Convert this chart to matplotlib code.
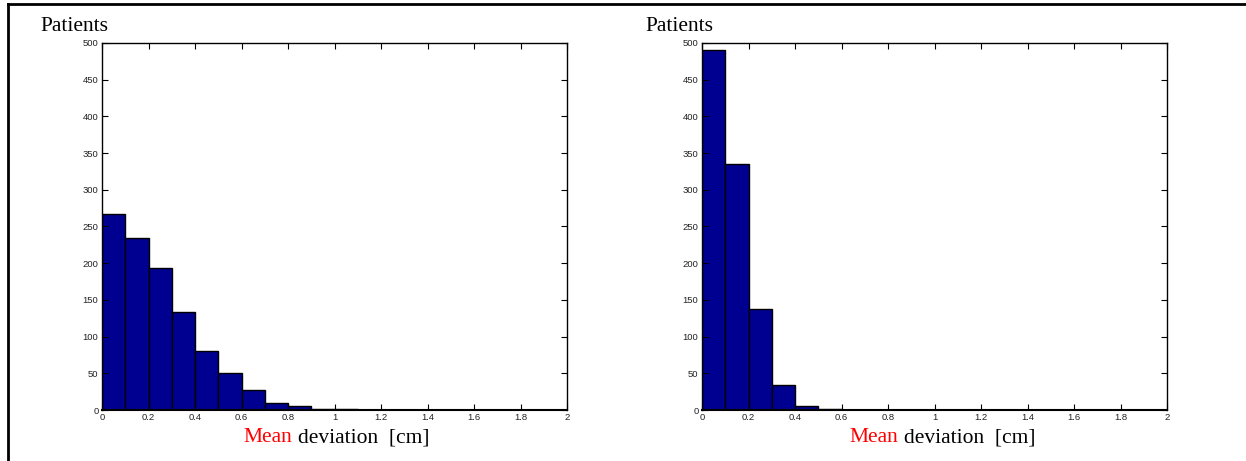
import numpy as np
import matplotlib
matplotlib.use('Agg')
import matplotlib.pyplot as plt
from matplotlib.lines import Line2D

# histogram counts per 0.1 cm bin, 0..2 cm
bin_edges = np.round(np.arange(0, 2.05, 0.1), 2)
left_counts = [267, 234, 194, 134, 81, 51, 27, 10, 6, 2, 1,
               0, 0, 0, 0, 0, 0, 0, 0, 0]
right_counts = [490, 335, 137, 34, 6, 1, 0, 0, 0, 0, 0,
                0, 0, 0, 0, 0, 0, 0, 0, 0]
x_ticks = [0, 0.2, 0.4, 0.6, 0.8, 1, 1.2, 1.4, 1.6, 1.8, 2]
x_tick_labels = ['0', '0.2', '0.4', '0.6', '0.8', '1', '1.2', '1.4', '1.6', '1.8', '2']
y_ticks = list(range(0, 501, 50))

W, H = 1246, 461
fig = plt.figure(figsize=(W / 100, H / 100), dpi=100)
fig.patch.set_facecolor('white')

bar_color = '#000090'
serif = 'Liberation Serif'
sans = 'Liberation Sans'


def px(x, y):
    return x / W, 1 - y / H


def draw_hist(left_px, counts):
    ax = fig.add_axes([left_px / W, 51 / H, 465 / W, 367 / H])
    ax.bar(bin_edges[:-1], counts, width=0.1, align='edge',
           color=bar_color, edgecolor='black', linewidth=1.0)
    ax.set_xlim(0, 2)
    ax.set_ylim(0, 500)
    ax.set_xticks(x_ticks)
    ax.set_xticklabels(x_tick_labels)
    ax.set_yticks(y_ticks)
    ax.tick_params(direction='in', length=4, width=0.8, top=True, right=True,
                   labelsize=6.8, colors='black', labelcolor='#222222')
    ax.tick_params(axis='y', pad=2.5)
    ax.tick_params(axis='x', pad=2)
    for lab in ax.get_xticklabels() + ax.get_yticklabels():
        lab.set_fontfamily(sans)
    for sp in ax.spines.values():
        sp.set_linewidth(1.0)
    ax.spines['bottom'].set_linewidth(1.5)
    return ax


for left_px, counts, pat_x, lab_x in [(102, left_counts, 40, 243),
                                      (702, right_counts, 645, 849)]:
    ax = draw_hist(left_px, counts)
    fig.text(*px(pat_x, 31), 'Patients', fontsize=15.5, family=serif,
             va='baseline', ha='left')
    t1 = fig.text(*px(lab_x, 442), 'Mean', fontsize=15.5, family=serif,
                  color='red', va='baseline', ha='left')
    ax.annotate('deviation  [cm]', xy=(1, 0), xycoords=t1,
                xytext=(4.2, 0), textcoords='offset points',
                fontsize=15.5, family=serif, color='black',
                va='bottom', ha='left', annotation_clip=False)

# outer frame (left and top edges visible)
fig.add_artist(Line2D([8 / W, 8 / W], [0, 1 - 4.5 / H], color='black',
                      linewidth=2, transform=fig.transFigure))
fig.add_artist(Line2D([8 / W, 1], [1 - 4.5 / H, 1 - 4.5 / H], color='black',
                      linewidth=2, transform=fig.transFigure))

fig.savefig('out.png', dpi=100)
